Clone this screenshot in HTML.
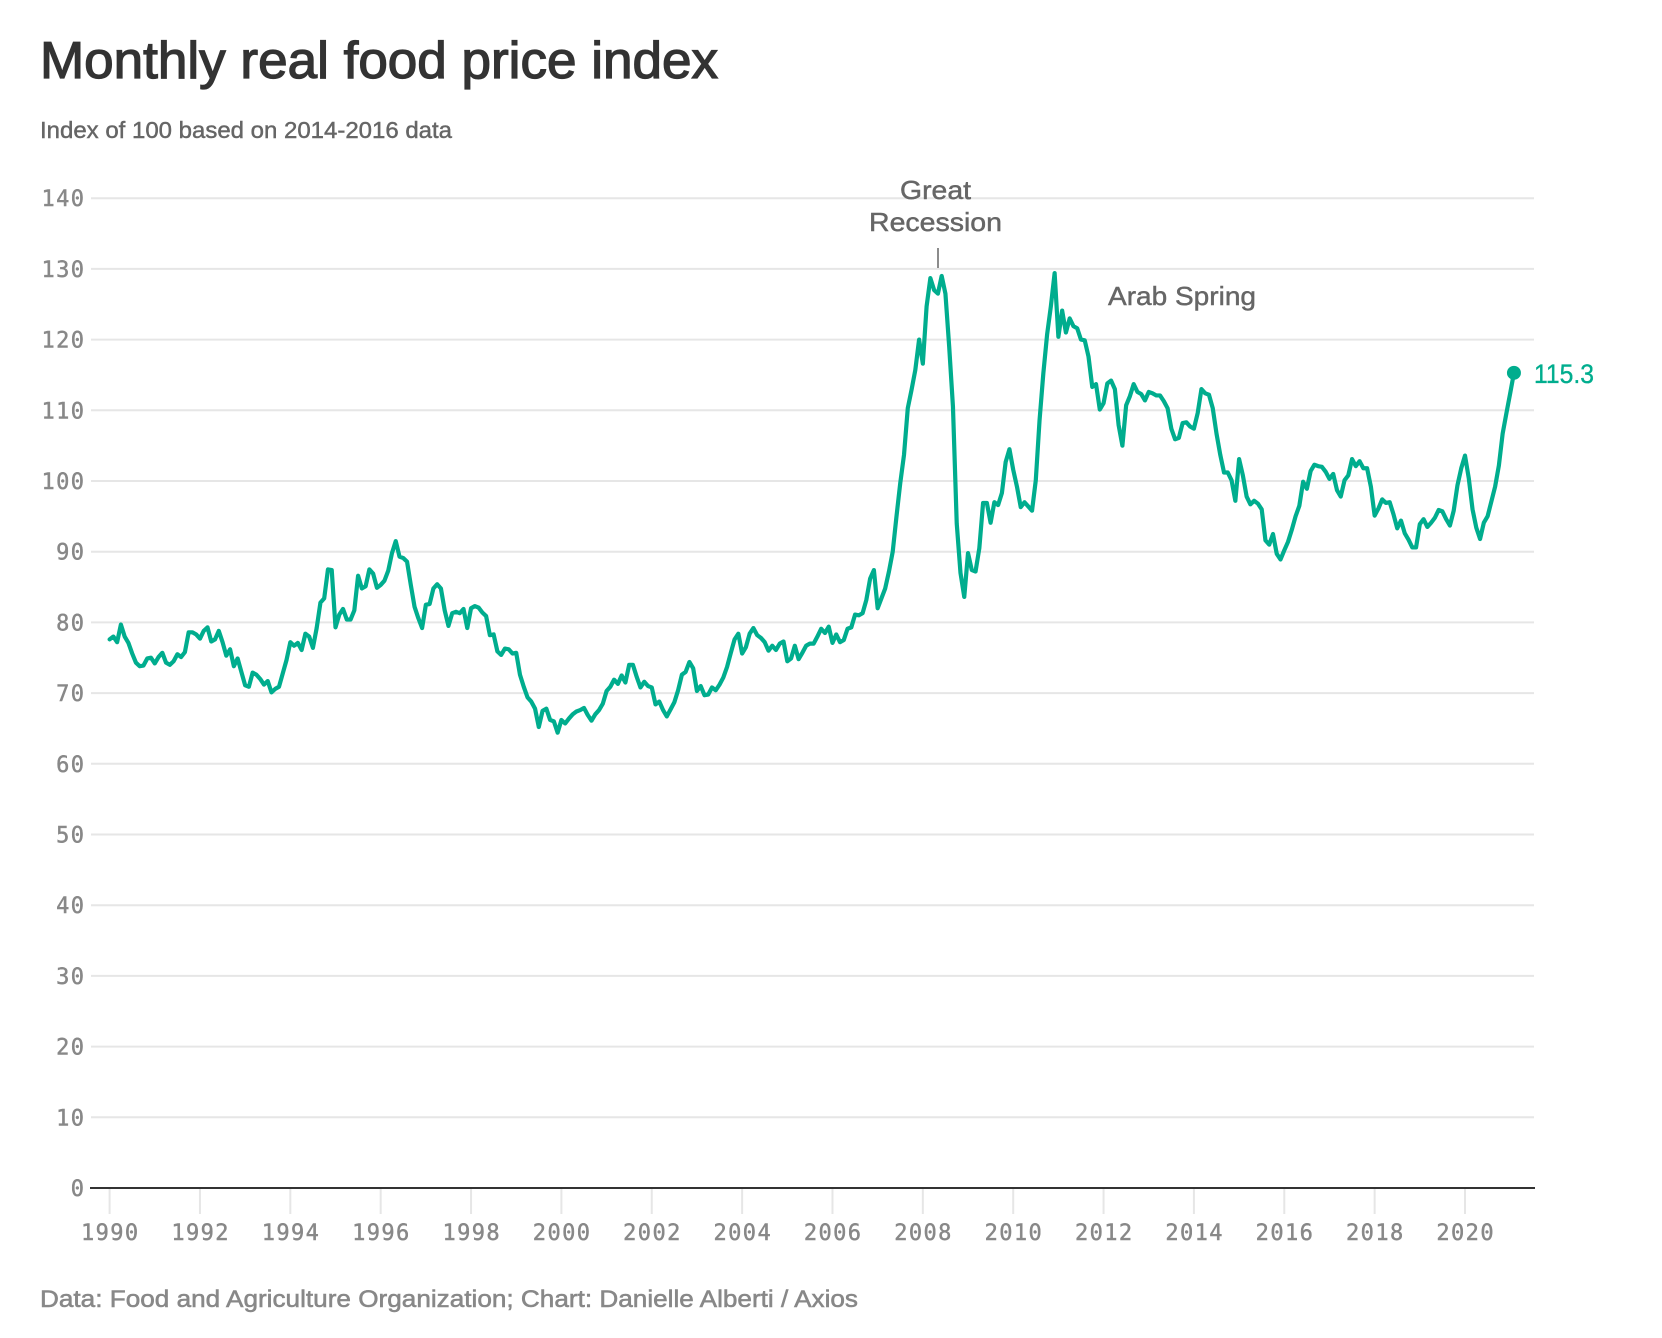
<!DOCTYPE html>
<html lang="en">
<head>
<meta charset="utf-8">
<title>Monthly real food price index</title>
<style>
html,body{margin:0;padding:0;background:#fff;width:1662px;height:1338px;overflow:hidden}
svg{display:block}
text{font-family:"Liberation Sans",sans-serif}
.tick{font-family:"DejaVu Sans Mono","Liberation Mono",monospace;font-size:22px;fill:#888;stroke:#888;stroke-width:.45;letter-spacing:1.4px}
.note{font-size:26px;fill:#666;stroke:#666;stroke-width:.45}
</style>
</head>
<body>
<svg id="chart" xmlns="http://www.w3.org/2000/svg" width="1662" height="1338" viewBox="0 0 1662 1338">
  <rect x="0" y="0" width="1662" height="1338" fill="#fff"/>
  <text x="40" y="78" font-size="52" fill="#333" stroke="#333" stroke-width="1.3" textLength="678" lengthAdjust="spacingAndGlyphs">Monthly real food price index</text>
  <text x="40" y="138" font-size="23" fill="#666" stroke="#666" stroke-width="0.45" textLength="412" lengthAdjust="spacingAndGlyphs">Index of 100 based on 2014-2016 data</text>
  <g id="grid"></g>
  <g id="xticks"></g>
  <g id="yticks"></g>
  <line x1="938" y1="248" x2="938" y2="268" stroke="#666" stroke-width="1.5"/>
  <text class="note" x="935.5" y="199" text-anchor="middle" textLength="71" lengthAdjust="spacingAndGlyphs">Great</text>
  <text class="note" x="935.5" y="231" text-anchor="middle" textLength="133" lengthAdjust="spacingAndGlyphs">Recession</text>
  <text class="note" x="1108" y="305" textLength="148" lengthAdjust="spacingAndGlyphs">Arab Spring</text>
  <path id="series" fill="none" stroke="#00AD8E" stroke-width="4.2" stroke-linejoin="round" stroke-linecap="round"/>
  <circle id="endDot" r="7" fill="#00AD8E"/>
  <text id="endLabel" font-size="27" fill="#00AD8E" stroke="#00AD8E" stroke-width="0.35" textLength="60" lengthAdjust="spacingAndGlyphs"></text>
  <text x="40" y="1307" font-size="24" fill="#888" stroke="#888" stroke-width="0.55" textLength="818" lengthAdjust="spacingAndGlyphs">Data: Food and Agriculture Organization; Chart: Danielle Alberti / Axios</text>
</svg>
<script>
const startYear = 1990;
const yTickValues = [0,10,20,30,40,50,60,70,80,90,100,110,120,130,140];
const xTickYears = [1990,1992,1994,1996,1998,2000,2002,2004,2006,2008,2010,2012,2014,2016,2018,2020];
const foodIndex = [
77.6,78.0,77.2,79.7,78.0,77.1,75.6,74.3,73.8,73.9,74.9,75.0,
74.2,75.1,75.7,74.3,74.0,74.5,75.5,75.1,75.8,78.6,78.6,78.3,
77.7,78.8,79.3,77.3,77.6,78.8,77.2,75.3,76.2,73.8,74.9,73.0,
71.1,70.9,72.9,72.6,72.0,71.2,71.7,70.1,70.6,70.9,72.8,74.7,
77.2,76.7,77.1,76.1,78.4,78.0,76.4,79.2,82.8,83.4,87.5,87.4,
79.3,81.1,81.9,80.4,80.4,81.7,86.6,84.8,85.1,87.5,86.9,84.9,
85.3,85.9,87.3,89.8,91.5,89.3,89.1,88.6,85.3,82.2,80.6,79.2,
82.5,82.6,84.8,85.4,84.8,81.7,79.5,81.3,81.5,81.3,81.9,79.2,
82.0,82.3,82.1,81.4,80.9,78.2,78.3,75.9,75.4,76.3,76.2,75.6,
75.7,72.6,70.9,69.4,68.8,67.8,65.2,67.5,67.8,66.2,66.0,64.4,
66.2,65.7,66.4,67.0,67.4,67.6,67.9,66.9,66.1,67.0,67.6,68.5,
70.3,70.9,71.9,71.3,72.5,71.5,74.0,74.0,72.3,70.8,71.6,71.0,
70.8,68.4,68.8,67.6,66.7,67.7,68.7,70.4,72.6,73.0,74.4,73.5,
70.3,71.0,69.7,69.8,70.8,70.4,71.2,72.2,73.7,75.7,77.6,78.4,
75.6,76.5,78.4,79.2,78.2,77.8,77.2,76.0,76.7,76.1,77.0,77.3,
74.5,74.9,76.7,74.8,75.7,76.7,77.0,77.0,78.0,79.1,78.5,79.4,
77.1,78.3,77.2,77.5,79.1,79.3,81.1,81.0,81.3,83.2,86.2,87.4,
82.0,83.4,84.8,87.2,90.0,95.0,99.7,103.7,110.3,112.9,115.7,120.0,
116.6,124.7,128.7,127.0,126.5,129.0,126.5,119.0,110.5,94.0,87.0,83.6,
89.8,87.4,87.2,90.5,96.9,96.9,94.1,97.0,96.6,98.3,102.7,104.5,
101.6,99.2,96.3,97.0,96.4,95.8,100.1,108.6,115.2,120.7,124.7,129.4,
120.4,124.1,121.0,123.0,121.9,121.6,120.0,119.9,117.6,113.3,113.7,110.1,
111.0,113.8,114.2,113.0,107.9,105.0,110.7,112.0,113.7,112.6,112.3,111.4,
112.6,112.4,112.1,112.1,111.3,110.3,107.4,105.9,106.1,108.2,108.3,107.7,
107.4,109.6,113.0,112.4,112.2,110.3,106.7,103.7,101.2,101.2,100.1,97.2,
103.1,100.8,97.8,96.7,97.2,96.8,96.0,91.6,91.0,92.5,89.7,88.9,
90.2,91.4,93.1,95.0,96.5,99.9,98.9,101.4,102.3,102.1,102.0,101.3,
100.3,101.0,98.7,97.8,100.1,100.8,103.1,102.1,102.8,101.8,101.8,99.2,
95.1,96.1,97.4,96.9,97.0,95.3,93.3,94.4,92.6,91.7,90.6,90.6,
93.9,94.6,93.5,94.1,94.8,95.9,95.7,94.6,93.7,95.8,99.4,101.8,
103.6,100.4,96.0,93.4,91.8,94.1,95.0,97.1,99.2,102.2,106.7,109.6,
112.4,115.3
];

const NS = 'http://www.w3.org/2000/svg';
const plot = {left: 109.6, perYear: 45.18, base: 1188, perUnit: 7.07, gridL: 91, gridR: 1534};
function xScale(yearFraction) { return plot.left + plot.perYear * (yearFraction - startYear); }
function yScale(value) { return plot.base - plot.perUnit * value; }
function make(tag, attrs, parent, text) {
  const el = document.createElementNS(NS, tag);
  for (const k in attrs) el.setAttribute(k, attrs[k]);
  if (text !== undefined) el.textContent = text;
  parent.appendChild(el);
  return el;
}

const grid = document.getElementById('grid');
const yG = document.getElementById('yticks');
yTickValues.forEach(function (v) {
  const y = yScale(v);
  if (v !== 0) {
    const gl = make('line', {x1: plot.gridL, x2: plot.gridR, y1: y, y2: y, stroke: '#e6e6e6', 'stroke-width': 2}, grid);
    
    
  }
  const t = make('text', {x: 85.4, y: y + 8, 'text-anchor': 'end', 'class': 'tick'}, yG, String(v));
  
  
});

const xG = document.getElementById('xticks');
xTickYears.forEach(function (yr) {
  const x = xScale(yr);
  const tk = make('line', {x1: x, x2: x, y1: plot.base, y2: plot.base + 26, stroke: '#e6e6e6', 'stroke-width': 2}, xG);
  
  
  const t = make('text', {x: x + 0.7, y: 1240, 'text-anchor': 'middle', 'class': 'tick'}, xG, String(yr));
  
  
});
const baseLine = make('line', {x1: 90, x2: 1535, y1: plot.base, y2: plot.base, stroke: '#333', 'stroke-width': 2}, xG);



const pts = foodIndex.map(function (v, i) {
  return xScale(startYear + i / 12).toFixed(2) + ',' + yScale(v).toFixed(2);
});
document.getElementById('series').setAttribute('d', 'M' + pts.join('L'));

const lastIdx = foodIndex.length - 1;
const lastX = xScale(startYear + lastIdx / 12);
const lastY = yScale(foodIndex[lastIdx]);
const dot = document.getElementById('endDot');
dot.setAttribute('cx', lastX);
dot.setAttribute('cy', lastY);
const lab = document.getElementById('endLabel');
lab.setAttribute('x', lastX + 20);
lab.setAttribute('y', lastY + 10);
lab.textContent = foodIndex[lastIdx].toFixed(1);
</script>
</body>
</html>
